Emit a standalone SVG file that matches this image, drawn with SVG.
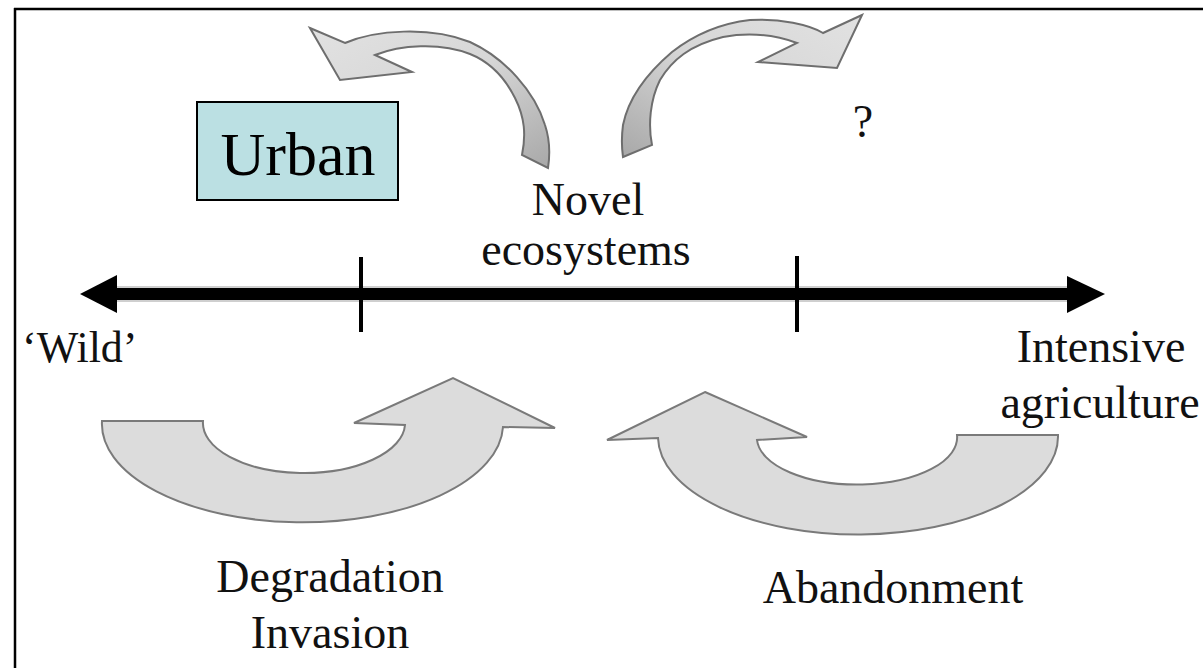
<svg xmlns="http://www.w3.org/2000/svg" width="1203" height="668" viewBox="0 0 1203 668">
<defs>
<style>
text{font-family:'Liberation Serif','DejaVu Serif','Noto Serif',serif;}
.t{font-size:46px;fill:#111;}
.big{stroke:#7a7a7a;stroke-width:2;fill:#dcdcdc;stroke-linejoin:miter;}
.curl{stroke:#6e6e6e;stroke-width:2;stroke-linejoin:miter;}
.axis{stroke:#000;stroke-width:12;}
.tick{stroke:#000;stroke-width:4;}
</style>
<linearGradient id="gL" x1="0" y1="0" x2="1" y2="1">
<stop offset="0" stop-color="#e2e2e2"/>
<stop offset="0.5" stop-color="#d6d6d6"/>
<stop offset="1" stop-color="#a8a8a8"/>
</linearGradient>
<linearGradient id="gR" x1="1" y1="0" x2="0" y2="1">
<stop offset="0" stop-color="#e2e2e2"/>
<stop offset="0.5" stop-color="#d6d6d6"/>
<stop offset="1" stop-color="#a8a8a8"/>
</linearGradient>
</defs>
<rect x="0" y="0" width="1203" height="668" fill="#fff"/>
<g id="frame" stroke="#000" stroke-width="2.5" fill="none">
<line x1="14" y1="9" x2="1203" y2="9"/>
<line x1="15" y1="8" x2="15" y2="668"/>
</g>
<g id="connectors">
<g id="axis">
<line x1="112" y1="294" x2="1070" y2="294" stroke="#cfcfcf" stroke-width="16"/>
<line class="axis" x1="112" y1="294" x2="1070" y2="294"/>
<polygon points="80,294 117,275 117,313" fill="#000"/>
<polygon points="1105,294 1067,276 1067,313" fill="#000"/>
<line class="tick" x1="361" y1="257" x2="361" y2="332"/>
<line class="tick" x1="797" y1="256" x2="797" y2="332"/>
</g>
<path id="arrow-degradation" class="big" d="M102,421 L203,421 A101,50 0 0 0 405,425 L354,423 L453,378 L555,428 L503,427 A200,98 0 0 1 102,421 Z"/>
<path id="arrow-abandonment" class="big" d="M705,392 L807,437 L757,440 A100,47 0 0 0 957,435 L1058,435 A200,98 0 0 1 658,438 L607,440 Z"/>
<path id="arrow-top-left" class="curl" fill="url(#gL)" d="M310,28 L345,43 C375,30 430,26 470,42 C505,58 535,92 545,125 C550,140 550,155 548,168 L522,155 C526,135 525,118 515,98 C505,78 490,62 470,54 C440,42 400,45 375,55 L412,72 L340,80 Z"/>
<path id="arrow-top-right" class="curl" fill="url(#gR)" d="M862,15 L823,33 C810,25 780,18 750,20 C715,24 690,38 672,52 C645,75 628,100 623,125 C621,140 622,150 623,157 L652,145 C648,125 650,100 660,80 C672,60 690,45 723,37 C750,32 775,35 797,43 L758,62 L837,68 Z"/>
</g>
<g id="urban">
<rect x="197" y="102" width="201" height="98" fill="#bbe0e3" stroke="#000" stroke-width="2"/>
<text x="298" y="175" text-anchor="middle" font-size="62" fill="#000">Urban</text>
</g>
<g id="novel-ecosystems">
<text class="t" x="588" y="215" text-anchor="middle">Novel</text>
<text class="t" x="586" y="265" text-anchor="middle">ecosystems</text>
</g>
<g id="question"><text class="t" x="863" y="137" text-anchor="middle">?</text></g>
<g id="wild"><text class="t" x="22" y="362" style="font-size:44px">‘Wild’</text></g>
<g id="intensive-agriculture">
<text class="t" x="1101" y="362" text-anchor="middle">Intensive</text>
<text class="t" x="1100" y="418" text-anchor="middle">agriculture</text>
</g>
<g id="degradation-invasion">
<text class="t" x="330" y="592" text-anchor="middle">Degradation</text>
<text class="t" x="330" y="648" text-anchor="middle">Invasion</text>
</g>
<g id="abandonment"><text class="t" x="893" y="603" text-anchor="middle">Abandonment</text></g>
</svg>
